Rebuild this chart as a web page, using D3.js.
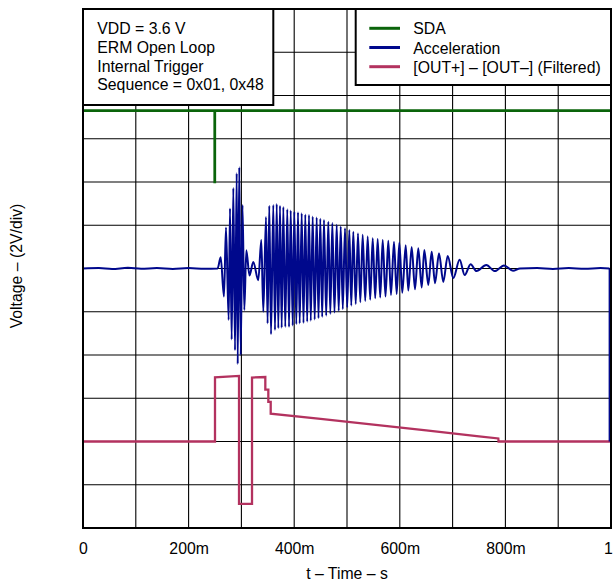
<!DOCTYPE html>
<html>
<head>
<meta charset="utf-8">
<script src="https://cdn.jsdelivr.net/npm/d3@7"></script>
<style>
  html, body { margin: 0; padding: 0; background: #fff; }
  svg text { font-family: "Liberation Sans", Arial, Helvetica, sans-serif; fill: #000; }
</style>
</head>
<body>
<svg id="chart" width="613" height="582"></svg>
<script>
// ---- Data ----
const xTickValues = [0, 0.2, 0.4, 0.6, 0.8, 1.0];
const xTickLabels = ["0", "200m", "400m", "600m", "800m", "1"];
const seriesNames = ["SDA", "Acceleration", "[OUT+] \u2013 [OUT\u2013] (Filtered)"];
const seriesColors = ["#0a640a", "#00088c", "#b3325f"];
const noteLines = ["VDD = 3.6 V", "ERM Open Loop", "Internal Trigger", "Sequence = 0x01, 0x48"];

// SDA (V)
const sdaTime  = [0, 0.2494, 0.2494, 0.2497, 0.2497, 1.0];
const sdaVolts = [7.3, 7.3, 4.0, 4.0, 7.3, 7.3];

// Acceleration extrema (V)
const accTime = [0.000, 0.030, 0.055, 0.085, 0.110, 0.140, 0.170, 0.200, 0.230, 0.2549,
  0.2608, 0.2670, 0.2708, 0.2759, 0.2784, 0.2816, 0.2847, 0.2879, 0.2911, 0.2930,
  0.2960, 0.2987, 0.3021, 0.3055, 0.3093, 0.3153, 0.3225, 0.3320, 0.3377, 0.3415,
  0.3466, 0.3496, 0.3528, 0.3561, 0.3604, 0.3636, 0.3669, 0.3699, 0.3731, 0.3763,
  0.3794, 0.3831, 0.3869, 0.3902, 0.3934, 0.3972, 0.4002, 0.4040, 0.4072, 0.4104,
  0.4142, 0.4176, 0.4210, 0.4246, 0.4280, 0.4314, 0.4350, 0.4388, 0.4426, 0.4460,
  0.4494, 0.4530, 0.4564, 0.4606, 0.4646, 0.4684, 0.4722, 0.4763, 0.4805, 0.4843,
  0.4881, 0.4920, 0.4962, 0.5004, 0.5044, 0.5081, 0.5119, 0.5165, 0.5208, 0.5252,
  0.5297, 0.5345, 0.5392, 0.5439, 0.5487, 0.5534, 0.5581, 0.5629, 0.5676, 0.5729,
  0.5782, 0.5833, 0.5890, 0.5941, 0.5991, 0.6047, 0.6112, 0.6161, 0.6225, 0.6288,
  0.6350, 0.6415, 0.6464, 0.6540, 0.6604, 0.6667, 0.6742, 0.6824, 0.6907, 0.7013,
  0.7133, 0.7229, 0.7341, 0.7453, 0.7638, 0.7803, 0.7973, 0.8144, 0.8277, 0.860,
  0.890, 0.920, 0.950, 0.980, 0.997];
const accVolts = [0.00, 0.02, -0.02, 0.03, -0.01, 0.02, -0.02, 0.02, -0.01, 0.00,
  0.52, -1.30, 1.90, -2.38, 2.78, -3.28, 3.72, -3.78, 4.40, -4.42,
  4.68, -4.00, 2.94, -1.92, 0.84, -0.32, 0.30, -0.54, 1.32, -2.00,
  2.38, -2.54, 2.90, -3.04, 2.94, -2.84, 2.98, -2.76, 2.90, -2.74,
  2.84, -2.70, 2.74, -2.70, 2.68, -2.64, 2.62, -2.58, 2.60, -2.54,
  2.56, -2.52, 2.50, -2.46, 2.48, -2.42, 2.40, -2.36, 2.36, -2.30,
  2.30, -2.24, 2.24, -2.18, 2.16, -2.10, 2.10, -2.04, 2.02, -1.96,
  1.94, -1.88, 1.86, -1.80, 1.78, -1.72, 1.70, -1.64, 1.62, -1.56,
  1.56, -1.50, 1.48, -1.44, 1.40, -1.38, 1.36, -1.34, 1.32, -1.30,
  1.28, -1.22, 1.24, -1.18, 1.20, -1.12, 1.08, -1.02, 1.00, -0.96,
  0.94, -0.88, 0.86, -0.76, 0.78, -0.68, 0.70, -0.62, 0.58, -0.44,
  0.40, -0.30, 0.20, -0.12, 0.16, -0.12, 0.14, -0.10, 0.00, 0.02,
  -0.02, 0.02, -0.01, 0.02, 0.00];
const accEndTime  = [0.997, 0.997];
const accEndVolts = [0.0, -8.0];

// [OUT+] - [OUT-] filtered (V)
const outTime  = [0, 0.25, 0.25, 0.2955, 0.2955, 0.3201, 0.3201, 0.3453, 0.3453, 0.3510,
  0.3510, 0.3555, 0.3555, 0.45, 0.55, 0.65, 0.75, 0.7866, 0.7870, 1.0];
const outVolts = [-8, -8, -5.03, -4.97, -10.88, -10.88, -5.04, -5.02, -5.60, -5.60,
  -6.17, -6.17, -6.71, -6.95, -7.22, -7.49, -7.76, -7.86, -8.0, -8.0];

// ---- Layout ----
const L = 83, R = 611, T = 9, B = 528;
const FS = 15.8;
const svg = d3.select("#chart");
const x = d3.scaleLinear().domain([0, 1]).range([L, R]);
const y = d3.scaleLinear().domain([-12, 12]).range([B, T]);

// Grid
const grid = svg.append("g");
grid.selectAll("line.vx").data(x.ticks(10)).join("line")
  .attr("x1", d => x(d)).attr("x2", d => x(d)).attr("y1", T).attr("y2", B)
  .attr("stroke", "#000").attr("stroke-width", 1.1);
grid.selectAll("line.hy").data(y.ticks(12)).join("line")
  .attr("x1", L).attr("x2", R).attr("y1", d => y(d)).attr("y2", d => y(d))
  .attr("stroke", "#000").attr("stroke-width", 1.1);

const zip = (a, b) => a.map((t, i) => [t, b[i]]);
const lineLin = d3.line().x(d => x(d[0])).y(d => y(d[1]));
const lineSmooth = d3.line().x(d => x(d[0])).y(d => y(d[1])).curve(d3.curveMonotoneX);

// Traces
svg.append("path").datum(zip(outTime, outVolts)).attr("d", lineLin)
  .attr("fill", "none").attr("stroke", seriesColors[2]).attr("stroke-width", 2.3);
svg.append("path").datum(zip(accTime, accVolts)).attr("d", lineSmooth)
  .attr("fill", "none").attr("stroke", seriesColors[1]).attr("stroke-width", 2)
  .attr("stroke-linejoin", "round");
svg.append("path").datum(zip(accEndTime, accEndVolts)).attr("d", lineLin)
  .attr("fill", "none").attr("stroke", seriesColors[1]).attr("stroke-width", 1.6);
svg.append("path").datum(zip(sdaTime, sdaVolts)).attr("d", lineLin)
  .attr("fill", "none").attr("stroke", seriesColors[0]).attr("stroke-width", 2.6);

// Plot frame
svg.append("rect").attr("x", L).attr("y", T).attr("width", R - L).attr("height", B - T)
  .attr("fill", "none").attr("stroke", "#000").attr("stroke-width", 2);

// Annotation box
svg.append("rect").attr("x", L).attr("y", T).attr("width", 273.3 - L).attr("height", 105 - T)
  .attr("fill", "#fff").attr("stroke", "#000").attr("stroke-width", 2);
svg.append("g").selectAll("text").data(noteLines).join("text")
  .attr("x", 97.3).attr("y", (d, i) => 34.4 + i * 18.6)
  .attr("font-size", FS).text(d => d);

// Legend box
svg.append("rect").attr("x", 355.7).attr("y", T).attr("width", R - 355.7).attr("height", 85 - T)
  .attr("fill", "#fff").attr("stroke", "#000").attr("stroke-width", 2);
const leg = svg.append("g").selectAll("g").data(seriesNames).join("g")
  .attr("transform", (d, i) => `translate(0, ${28.3 + i * 19.2})`);
leg.append("line").attr("x1", 369.3).attr("x2", 400).attr("y1", 0).attr("y2", 0)
  .attr("stroke", (d, i) => seriesColors[i]).attr("stroke-width", 3);
leg.append("text").attr("x", 413.3).attr("y", 6).attr("font-size", FS).text(d => d);

// X axis labels
const xAxis = d3.axisBottom(x).tickValues(xTickValues)
  .tickFormat((d, i) => xTickLabels[i]).tickSize(0).tickPadding(14.5);
const gx = svg.append("g").attr("transform", `translate(0, ${B})`).call(xAxis);
gx.select(".domain").remove();
gx.selectAll("text").attr("font-size", FS)
  .attr("font-family", '"Liberation Sans", Arial, sans-serif').attr("fill", "#000")
  .attr("dx", (d, i) => i === xTickValues.length - 1 ? -3 : 0);

// Axis titles
svg.append("text").attr("x", (L + R) / 2).attr("y", 579).attr("text-anchor", "middle")
  .attr("font-size", FS).text("t \u2013 Time \u2013 s");
svg.append("text").attr("transform", "translate(21.5, 266) rotate(-90)")
  .attr("text-anchor", "middle").attr("font-size", FS).text("Voltage \u2013 (2V/div)");
</script>
</body>
</html>
